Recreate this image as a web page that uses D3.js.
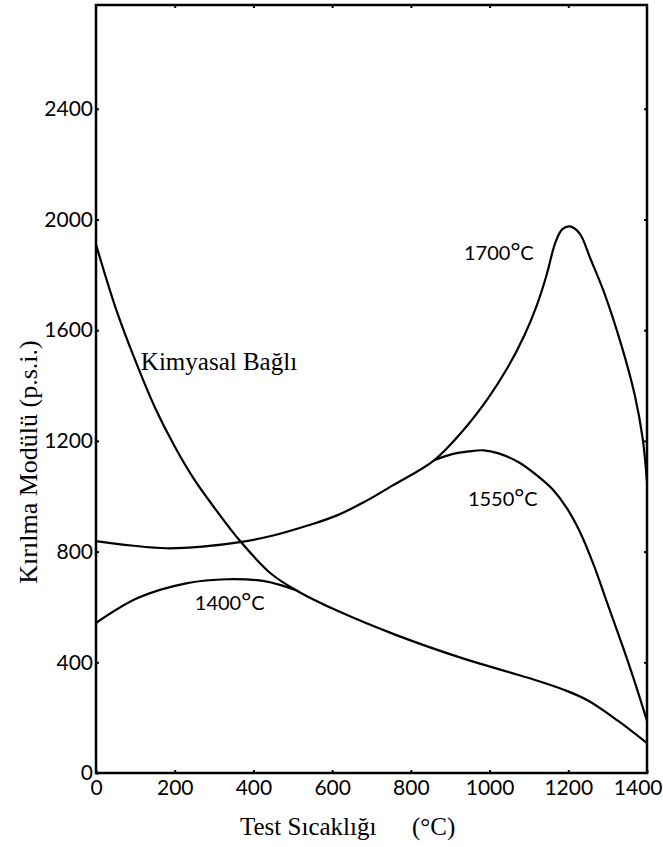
<!DOCTYPE html>
<html>
<head>
<meta charset="utf-8">
<script src="https://cdnjs.cloudflare.com/ajax/libs/d3/7.8.5/d3.min.js"></script>
<style>
  body { margin: 0; background: #fff; }
</style>
</head>
<body>
<div class="root"></div>
<script>
// values (temperature in degC, modulus in p.s.i.)
var xTicks = [0, 200, 400, 600, 800, 1000, 1200, 1400];
var yTicks = [0, 400, 800, 1200, 1600, 2000, 2400];

var kimyasal = [[0,1910],[50,1680],[100,1490],[150,1320],[200,1180],[250,1060],[300,960],[365,840],[445,720],[515,655],[615,585],[760,500],[930,415],[1100,343],[1190,300],[1250,262],[1325,190],[1400,108]];
var c1700 = [[0,838],[90,822],[180,812],[270,818],[366,834],[450,858],[540,895],[611,930],[680,978],[755,1040],[859,1130],[931,1235],[996,1354],[1046,1465],[1088,1580],[1120,1690],[1144,1795],[1168,1920],[1185,1965],[1204,1975],[1229,1949],[1256,1859],[1290,1740],[1335,1545],[1369,1365],[1389,1209],[1400,1050]];
var c1550 = [[859,1130],[905,1152],[947,1162],[985,1166],[1023,1155],[1075,1122],[1125,1070],[1160,1025],[1195,960],[1230,870],[1265,750],[1300,610],[1340,450],[1372,315],[1400,188]];
var c1400 = [[0,542],[106,632],[232,686],[334,700],[428,693],[515,657]];

var seriesNames = ["Kimyasal Bağlı", "1700", "1550", "1400"];
var labelAt = [[114,1456],[935,1853],[945,965],[251,589]];

var width = 663, height = 847;
var svg = d3.select(".root").append("svg")
  .attr("width", width)
  .attr("height", height);

var x = d3.scaleLinear().domain([0, 1400]).range([96, 647]);
var y = d3.scaleLinear().domain([0, 2775]).range([773, 5]);

// frame
svg.append("rect")
  .attr("x", x(0))
  .attr("y", y(2775))
  .attr("width", x(1400) - x(0))
  .attr("height", y(0) - y(2775))
  .attr("fill", "none")
  .attr("stroke", "#000")
  .attr("stroke-width", 2.5);

var xAxis = svg.append("g")
  .attr("transform", "translate(0," + y(0) + ")")
  .call(d3.axisBottom(x).tickValues(xTicks).tickSize(-3).tickPadding(7).tickFormat(d3.format("d")));
var yAxis = svg.append("g")
  .attr("transform", "translate(" + x(0) + ",0)")
  .call(d3.axisLeft(y).tickValues(yTicks).tickSize(-3).tickPadding(3).tickFormat(d3.format("d")));
// small mirrored ticks on top and right
svg.append("g")
  .attr("transform", "translate(0," + y(2775) + ")")
  .call(d3.axisTop(x).tickValues(xTicks.slice(1, -1)).tickSize(-3).tickFormat(""));
svg.append("g")
  .attr("transform", "translate(" + x(1400) + ",0)")
  .call(d3.axisRight(y).tickValues(yTicks.slice(1)).tickSize(-3).tickFormat(""));

svg.selectAll(".domain").remove();
svg.selectAll(".tick line").attr("stroke", "#000").attr("stroke-width", 2);
[xAxis, yAxis].forEach(function (g) {
  g.attr("font-family", "Lato, 'DejaVu Sans', sans-serif")
    .attr("font-size", 21);
  g.selectAll("text").attr("fill", "#000");
});
// last x label sits against the page edge, like the scan
xAxis.selectAll(".tick:last-of-type text")
  .attr("text-anchor", "end")
  .attr("x", 662 - x(1400));

var line = d3.line()
  .x(function (d) { return x(d[0]); })
  .y(function (d) { return y(d[1]); })
  .curve(d3.curveCatmullRom.alpha(0.5));

svg.append("g")
  .selectAll("path")
  .data([kimyasal, c1700, c1550, c1400])
  .enter().append("path")
  .attr("d", line)
  .attr("fill", "none")
  .attr("stroke", "#000")
  .attr("stroke-width", 2.2);

// curve labels
var labels = svg.append("g");
seriesNames.forEach(function (name, i) {
  var t = labels.append("text")
    .attr("x", x(labelAt[i][0]))
    .attr("y", y(labelAt[i][1]))
    .attr("fill", "#000");
  if (i == 0) {
    t.attr("font-family", "'Liberation Serif', serif")
      .attr("font-size", 25)
      .text(name);
  } else {
    t.attr("font-family", "Lato, 'DejaVu Sans', sans-serif")
      .attr("font-size", 20);
    t.append("tspan").text(name);
    t.append("tspan").attr("font-size", 24).text("°");
    t.append("tspan").text("C");
  }
});

// axis titles
var title = svg.append("g")
  .attr("font-family", "'Liberation Serif', serif")
  .attr("font-size", 25)
  .attr("fill", "#000");
title.append("text")
  .attr("x", 240)
  .attr("y", 835)
  .text("Test Sıcaklığı");
title.append("text")
  .attr("x", 412)
  .attr("y", 835)
  .text("(°C)");
title.append("text")
  .attr("transform", "translate(37,462) rotate(-90)")
  .attr("text-anchor", "middle")
  .attr("font-size", 26)
  .text("Kırılma Modülü  (p.s.i.)");
</script>
</body>
</html>
